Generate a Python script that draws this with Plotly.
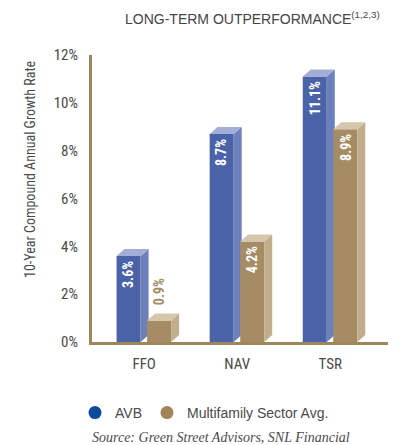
import plotly.graph_objects as go

categories = ["FFO", "NAV", "TSR"]
avb_values = [3.6, 8.7, 11.1]
sector_values = [0.9, 4.2, 8.9]
series_names = ["AVB", "Multifamily Sector Avg."]
y_tick_values = [0, 2, 4, 6, 8, 10, 12]
y_tick_labels = [f"{v}%" for v in y_tick_values]

# geometry (in data units)
BAR_W = 0.258
OFF_AVB = -0.296
OFF_SEC = 0.032
DX = 0.086
DY = 0.29

AVB_FRONT, AVB_SIDE, AVB_TOP = "#4A62A8", "#6E80BC", "#A3AED8"
SEC_FRONT, SEC_SIDE, SEC_TOP = "#A68C65", "#C2AE8C", "#D5C7AC"
AXIS_COL = "#9E8659"
TEXT_COL = "#4a4a4a"
NARROW = "Liberation Sans Narrow, Roboto Condensed, Arial Narrow, Roboto, sans-serif"

W, H = 401, 445
L, R, T, B = 92, 13, 55, 103
pw, ph = W - L - R, H - T - B


def px(xp):
    return (xp - L) / pw


def py(yp):
    return (H - B - yp) / ph


def faces(values, offset):
    fx, fy, sx, sy, tx, ty = [], [], [], [], [], []
    for i, v in enumerate(values):
        x0 = i + offset
        x1 = x0 + BAR_W
        fx += [x0, x1, x1, x0, x0, None]
        fy += [0, 0, v, v, 0, None]
        sx += [x1, x1 + DX, x1 + DX, x1, x1, None]
        sy += [0, DY, v + DY, v, 0, None]
        tx += [x0, x1, x1 + DX, x0 + DX, x0, None]
        ty += [v, v, v + DY, v + DY, v, None]
    return (fx, fy), (sx, sy), (tx, ty)


fig = go.Figure()
for values, offset, cols in [
    (avb_values, OFF_AVB, (AVB_FRONT, AVB_SIDE, AVB_TOP)),
    (sector_values, OFF_SEC, (SEC_FRONT, SEC_SIDE, SEC_TOP)),
]:
    for (xs, ys), col in zip(faces(values, offset), cols):
        fig.add_trace(go.Scatter(x=xs, y=ys, fill="toself", fillcolor=col,
                                 mode="lines", line=dict(width=0, color=col),
                                 showlegend=False, hoverinfo="skip"))

# legend entries
for name, col in zip(series_names, ["#0D4A9B", "#A0855A"]):
    fig.add_trace(go.Scatter(x=[None], y=[None], mode="markers", name=name,
                             marker=dict(size=13, color=col)))

annotations = []
for values, offset in [(avb_values, OFF_AVB), (sector_values, OFF_SEC)]:
    for i, v in enumerate(values):
        xc = i + offset + BAR_W / 2
        label = f"<b>{v:.1f}%</b>"
        if v >= 2:
            annotations.append(dict(x=xc, y=v, xref="x", yref="y", text=label,
                                    textangle=-90, showarrow=False, yanchor="top",
                                    xanchor="center", yshift=-3,
                                    font=dict(family=NARROW, size=14, color="white")))
        else:
            annotations.append(dict(x=xc, y=v + DY, xref="x", yref="y", text=label,
                                    textangle=-90, showarrow=False, yanchor="bottom",
                                    xanchor="center", yshift=6,
                                    font=dict(family=NARROW, size=14, color=SEC_FRONT)))

annotations.append(dict(x=px(252), y=py(18), xref="paper", yref="paper",
                        xanchor="center", yanchor="middle",
                        text="LONG-TERM OUTPERFORMANCE<sup>(1,2,3)</sup>",
                        showarrow=False,
                        font=dict(family="Liberation Sans, Arial", size=14, color="#444")))
annotations.append(dict(x=px(30), y=py(169), xref="paper", yref="paper",
                        xanchor="center", yanchor="middle",
                        text="10-Year Compound Annual Growth Rate", textangle=-90,
                        showarrow=False, font=dict(family=NARROW, size=14, color=TEXT_COL)))
annotations.append(dict(x=px(221), y=py(437), xref="paper", yref="paper",
                        xanchor="center", yanchor="middle",
                        text="<i>Source: Green Street Advisors, SNL Financial</i>",
                        showarrow=False,
                        font=dict(family="Liberation Serif, Times New Roman, serif", size=14,
                                  color=TEXT_COL)))

fig.update_layout(
    annotations=annotations,
    width=W, height=H,
    margin=dict(l=L, r=R, t=T, b=B, pad=0),
    paper_bgcolor="white", plot_bgcolor="white",
    showlegend=True,
    legend=dict(orientation="h", x=px(75), xanchor="left", y=py(413), yanchor="middle",
                font=dict(family="Liberation Sans, Arial", size=14, color=TEXT_COL),
                bgcolor="rgba(0,0,0,0)", borderwidth=0),
    xaxis=dict(range=[-0.56, 2.62], tickvals=[0, 1, 2], ticktext=categories,
               showline=True, linecolor=AXIS_COL, linewidth=3, showgrid=False,
               zeroline=False, ticks="", ticklabelstandoff=6,
               tickfont=dict(family=NARROW, size=15, color=TEXT_COL), fixedrange=True),
    yaxis=dict(range=[0, 12], tickvals=y_tick_values, ticktext=y_tick_labels,
               showline=True, linecolor=AXIS_COL, linewidth=3, showgrid=False,
               zeroline=False, ticks="", ticklabelstandoff=8,
               tickfont=dict(family=NARROW, size=15, color=TEXT_COL), fixedrange=True),
)

fig.write_html("out.html", config={"displayModeBar": False},
               post_script="document.body.style.margin='0';")
